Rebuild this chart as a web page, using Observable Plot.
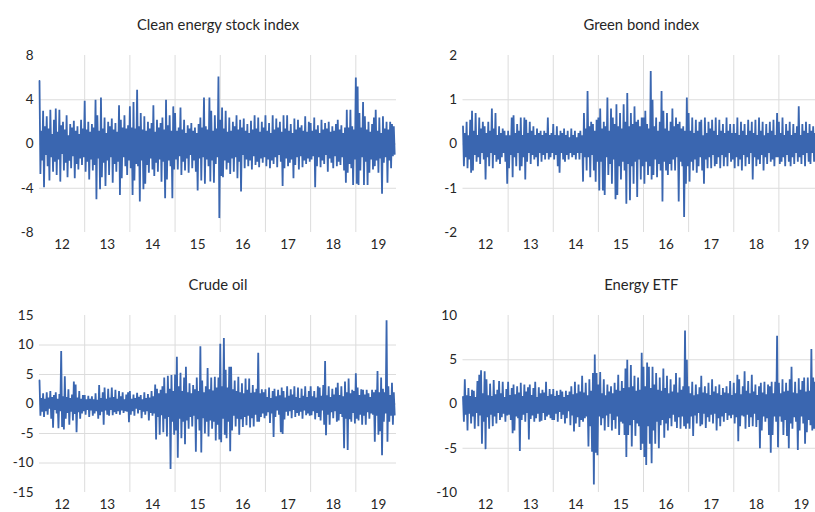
<!DOCTYPE html>
<html><head><meta charset="utf-8">
<script src="https://cdn.jsdelivr.net/npm/d3@7"></script>
<script src="https://cdn.jsdelivr.net/npm/@observablehq/plot@0.6"></script>
<style>
html,body{margin:0;padding:0;background:#fff;overflow:hidden;}
#wrap{position:relative;width:815px;height:512px;overflow:hidden;background:#fff;}
.panel{position:absolute;}
</style></head><body><div id="wrap"></div>
<script>
// x-axis year labels (two-digit years) and gridline positions
const yearLabels = [12, 13, 14, 15, 16, 17, 18, 19];
const yearBounds = [13, 14, 15, 16, 17, 18, 19];
const startYear = 12;
const obsPerYear = 50;

const titles = ["Clean energy stock index", "Green bond index", "Crude oil", "Energy ETF"];
const yTicksClean = [-8, -4, 0, 4, 8];
const yTicksBond = [-2, -1, 0, 1, 2];
const yTicksOil = [-15, -10, -5, 0, 5, 10, 15];
const yTicksEtf = [-10, -5, 0, 5, 10];

// estimated returns, 50 per year, 2012 .. late 2019
const cleanEnergy = [
  5.7, -2.7, 1.2, -1.5, 3.0, -3.9, 1.6, -1.0, 2.5, -2.0, 1.4, -3.3, 3.1, -1.2, 0.9, -2.5, 2.2, -1.6, 3.2, -2.8,
  1.1, -1.4, 3.1, -3.4, 1.7, -0.9, 2.0, -2.4, 1.3, -1.7, 2.6, -3.0, 0.8, -1.5, 1.8, -2.2, 1.5, -1.1, 2.1, -3.1,
  1.2, -1.8, 1.6, -2.3, 0.9, -1.3, 2.2, -1.9, 1.4, -1.2,
  3.9, -2.5, 1.3, -1.6, 2.0, -3.2, 1.1, -1.4, 1.8, -2.4, 1.5, -1.9, 4.0, -5.0, 2.6, -1.3, 1.2, -4.1, 4.2, -3.0,
  1.4, -1.7, 2.4, -3.8, 1.0, -1.5, 2.0, -2.8, 1.6, -1.2, 2.3, -3.5, 1.3, -1.8, 1.9, -2.5, 1.1, -1.6, 3.5, -4.6,
  2.2, -3.1, 1.5, -1.2, 2.6, -2.0, 1.4, -2.8, 1.7, -1.5,
  3.4, -2.2, 1.5, -4.6, 3.8, -3.3, 1.4, -1.8, 4.9, -2.0, 1.6, -5.2, 2.8, -1.5, 1.3, -4.1, 2.5, -3.6, 1.2, -1.9,
  2.0, -2.6, 1.4, -1.3, 1.9, -2.3, 3.5, -2.9, 1.1, -1.7, 2.2, -2.5, 1.5, -1.4, 1.9, -3.4, 2.4, -1.6, 1.3, -4.9,
  4.0, -3.2, 1.7, -1.5, 2.6, -2.0, 1.2, -4.9, 3.4, -2.3,
  2.8, -1.4, 1.2, -2.3, 1.5, -1.1, 3.3, -2.8, 1.3, -1.6, 2.2, -2.4, 1.0, -1.3, 1.7, -2.6, 1.4, -1.0, 1.9, -2.2,
  1.2, -1.5, 1.5, -2.5, 1.0, -4.2, 1.8, -1.3, 2.4, -3.3, 1.5, -1.2, 4.2, -3.6, 1.6, -1.4, 1.3, -2.0, 4.2, -3.4,
  3.0, -1.5, 1.2, -3.5, 2.6, -1.8, 1.4, -1.2, 6.1, -6.7,
  2.2, -2.9, 3.3, -3.0, 1.4, -1.5, 3.0, -2.3, 1.1, -1.7, 2.4, -2.7, 1.2, -1.3, 2.0, -2.5, 1.6, -1.2, 2.6, -3.1,
  1.3, -1.6, 2.2, -4.3, 1.5, -1.0, 2.3, -2.2, 1.2, -1.4, 1.8, -2.0, 1.0, -1.5, 2.1, -2.3, 1.3, -1.1, 2.6, -1.9,
  1.4, -1.6, 2.4, -2.1, 1.1, -1.3, 2.0, -1.7, 1.5, -1.2,
  2.6, -2.0, 1.2, -1.4, 1.9, -2.2, 1.0, -1.5, 2.6, -1.8, 1.3, -1.2, 2.3, -2.1, 1.5, -1.0, 2.0, -1.6, 1.1, -3.8,
  2.6, -2.2, 1.4, -1.3, 2.6, -2.0, 1.2, -1.7, 1.8, -1.4, 1.0, -3.1, 2.3, -1.9, 1.3, -1.2, 2.2, -2.3, 1.5, -1.1,
  1.7, -2.1, 1.2, -1.5, 2.5, -1.8, 1.1, -1.3, 2.0, -1.6,
  1.9, -1.4, 1.2, -1.1, 2.4, -3.9, 1.3, -2.0, 1.7, -1.2, 1.0, -2.1, 2.2, -1.5, 1.3, -1.8, 1.9, -1.0, 1.4, -2.5,
  2.0, -1.3, 1.1, -1.7, 1.6, -2.2, 1.2, -1.1, 1.8, -2.0, 2.2, -1.6, 1.3, -1.9, 1.7, -1.2, 1.0, -2.4, 1.5, -3.5,
  3.1, -2.6, 1.5, -1.8, 3.1, -2.2, 1.6, -3.7, 1.3, -1.4,
  6.0, -3.6, 5.2, -3.7, 2.8, -2.4, 1.5, -1.2, 3.8, -3.7, 2.5, -1.6, 1.3, -3.7, 2.0, -2.6, 1.1, -1.4, 1.8, -2.3,
  2.4, -2.0, 3.1, -1.5, 1.2, -2.6, 2.4, -1.3, 1.0, -4.5, 2.5, -1.7, 1.4, -1.2, 2.0, -3.5, 1.3, -1.5, 2.0, -2.2,
  1.8, -1.1, 1.6, -0.9
];

const greenBond = [
  0.4, -0.5, 0.25, -0.3, 0.5, -0.55, 0.2, -0.35, 0.55, -0.65, 0.75, -0.6, 0.3, -0.25, 0.7, -0.4, 0.2, -0.3, 0.6, -0.45,
  0.35, -0.2, 0.5, -0.35, 0.4, -0.8, 0.25, -0.3, 0.5, -0.5, 0.3, -0.2, 0.8, -0.55, 0.35, -0.25, 0.7, -0.4, 0.2, -0.35,
  0.4, -0.45, 0.25, -0.3, 0.35, -0.2, 0.3, -0.4, 0.2, -0.9,
  0.3, -0.55, 0.2, -0.25, 0.6, -0.75, 0.65, -0.3, 0.25, -0.5, 0.45, -0.2, 0.3, -0.6, 0.6, -0.5, 0.2, -0.3, 0.6, -0.8,
  0.55, -0.4, 0.25, -0.2, 0.5, -0.45, 0.3, -0.25, 0.4, -0.35, 0.2, -0.3, 0.35, -0.5, 0.25, -0.2, 0.3, -0.4, 0.2, -0.25,
  0.3, -0.35, 0.25, -0.2, 0.6, -0.35, 0.2, -0.3, 0.25, -0.2,
  0.45, -0.35, 0.2, -0.25, 0.4, -0.5, 0.2, -0.65, 0.3, -0.2, 0.25, -0.35, 0.35, -0.4, 0.2, -0.25, 0.3, -0.35, 0.15, -0.2,
  0.35, -0.3, 0.2, -0.25, 0.3, -0.35, 0.15, -0.2, 0.25, -0.35, 0.3, -0.2, 0.2, -0.85, 0.7, -0.3, 0.35, -0.6, 1.2, -0.3,
  0.4, -0.75, 0.5, -0.25, 0.45, -0.6, 0.3, -0.85, 0.55, -0.4,
  0.6, -1.05, 0.8, -0.4, 0.35, -1.05, 0.5, -1.15, 0.4, -0.3, 1.05, -0.7, 0.3, -0.45, 0.8, -0.9, 0.6, -0.35, 0.45, -1.25,
  0.9, -1.15, 0.4, -0.5, 0.7, -0.8, 0.35, -0.4, 0.9, -0.6, 0.5, -1.35, 1.15, -0.45, 0.4, -1.27, 0.7, -0.5, 0.45, -0.9,
  0.85, -0.4, 0.5, -1.2, 0.55, -0.35, 0.4, -0.8, 0.6, -0.5,
  0.6, -0.9, 0.75, -0.4, 0.45, -0.7, 0.35, -0.5, 1.65, -0.8, 1.0, -0.7, 0.4, -0.35, 0.6, -0.75, 0.3, -0.45, 0.5, -0.6,
  1.2, -1.3, 0.75, -0.4, 0.35, -0.6, 0.7, -0.7, 0.3, -0.45, 0.5, -0.6, 0.8, -0.35, 0.4, -0.6, 0.6, -0.3, 0.45, -1.3,
  0.5, -0.4, 0.35, -0.5, 0.4, -1.65, 0.3, -0.9, 1.05, -0.5,
  0.7, -0.85, 0.3, -0.4, 0.6, -0.6, 0.25, -0.35, 0.55, -0.65, 0.3, -0.5, 0.5, -0.3, 0.55, -0.6, 0.2, -0.9, 0.6, -0.35,
  0.25, -0.55, 0.5, -0.3, 0.35, -0.55, 0.55, -0.25, 0.3, -0.5, 0.6, -0.45, 0.2, -0.3, 0.55, -0.55, 0.3, -0.25, 0.45, -0.5,
  0.25, -0.3, 0.6, -0.5, 0.3, -0.2, 0.45, -0.4, 0.25, -0.35,
  0.45, -0.55, 0.25, -0.3, 0.6, -0.5, 0.2, -0.35, 0.5, -0.6, 0.3, -0.25, 0.45, -0.5, 0.2, -0.3, 0.55, -0.45, 0.3, -0.2,
  0.5, -0.8, 0.25, -0.3, 0.55, -0.5, 0.2, -0.35, 0.6, -0.45, 0.3, -0.25, 0.5, -0.6, 0.2, -0.3, 0.45, -0.45, 0.25, -0.2,
  0.5, -0.4, 0.3, -0.35, 0.55, -0.5, 0.2, -0.3, 0.7, -0.3,
  0.5, -0.45, 0.25, -0.4, 0.6, -0.3, 0.2, -0.5, 0.45, -0.25, 0.3, -0.4, 0.5, -0.5, 0.2, -0.3, 0.45, -0.45, 0.25, -0.2,
  0.4, -0.4, 0.85, -0.3, 0.2, -0.45, 0.45, -0.25, 0.3, -0.5, 0.5, -0.2, 0.25, -0.4, 0.45, -0.45, 0.3, -0.2, 0.4, -0.4,
  0.25, -0.3, 0.4, -0.2
];

const crudeOil = [
  4.0, -2.0, 1.0, -1.3, 1.8, -2.2, 0.9, -1.2, 2.0, -1.8, 1.1, -0.8, 2.2, -2.5, 1.2, -4.0, 1.5, -1.0, 2.0, -1.6,
  0.9, -4.1, 1.7, -1.2, 9.0, -3.9, 1.3, -4.3, 4.7, -2.5, 1.2, -1.5, 2.5, -3.5, 1.0, -1.3, 1.6, -2.8, 3.8, -1.7,
  3.3, -4.8, 1.1, -1.4, 2.2, -2.5, 0.9, -1.6, 1.5, -1.2,
  1.5, -1.8, 0.8, -1.0, 1.4, -2.2, 0.9, -1.1, 1.3, -2.0, 0.8, -1.6, 1.8, -1.2, 0.7, -2.5, 3.2, -1.9, 1.0, -1.3,
  2.0, -3.5, 2.8, -1.1, 0.9, -1.8, 2.6, -2.0, 1.1, -1.0, 2.8, -1.9, 1.2, -1.4, 2.4, -1.7, 0.9, -1.2, 2.2, -1.8,
  1.3, -1.1, 2.0, -1.5, 0.8, -1.2, 1.6, -1.3, 2.0, -3.1,
  2.2, -1.8, 0.9, -1.2, 1.6, -2.0, 1.0, -0.8, 1.9, -1.6, 1.2, -1.0, 1.5, -2.4, 0.8, -1.3, 2.0, -1.8, 1.0, -1.2,
  1.7, -2.8, 1.1, -1.5, 2.2, -2.0, 1.3, -1.6, 3.3, -6.0, 2.6, -2.2, 1.8, -5.2, 2.4, -1.9, 3.0, -4.8, 4.5, -2.5,
  1.8, -5.5, 4.8, -2.2, 2.6, -11.0, 4.9, -3.0, 2.2, -5.2,
  5.0, -4.5, 8.0, -9.1, 3.0, -2.5, 5.3, -5.8, 2.2, -3.0, 4.5, -6.8, 6.3, -2.8, 2.0, -4.2, 3.5, -2.2, 1.8, -3.8,
  3.2, -2.0, 2.5, -8.1, 4.5, -2.6, 2.2, -4.5, 9.8, -8.2, 4.0, -2.4, 2.0, -5.0, 3.0, -3.0, 6.1, -5.5, 2.5, -2.8,
  4.5, -4.2, 2.3, -3.0, 4.6, -6.2, 2.8, -3.5, 4.5, -6.0,
  10.2, -6.5, 3.0, -2.5, 11.2, -5.2, 5.8, -5.8, 2.8, -3.0, 6.3, -8.0, 6.3, -4.5, 2.5, -2.0, 4.0, -3.8, 2.2, -2.5,
  4.6, -5.2, 2.0, -2.6, 3.5, -3.9, 1.8, -2.2, 4.3, -3.6, 2.4, -2.0, 4.3, -4.0, 1.9, -2.4, 3.2, -3.8, 2.0, -1.8,
  2.6, -3.0, 8.7, -3.0, 1.8, -2.2, 2.5, -1.6, 2.0, -2.4,
  2.5, -2.0, 1.2, -1.4, 2.8, -3.2, 1.0, -1.6, 2.2, -5.6, 2.6, -2.2, 1.3, -1.1, 2.4, -1.8, 1.5, -4.8, 2.8, -5.1,
  2.2, -2.6, 1.1, -1.3, 3.0, -2.0, 1.4, -1.2, 2.5, -2.4, 1.6, -1.0, 3.0, -2.2, 1.2, -1.5, 2.8, -2.0, 1.0, -1.3,
  2.6, -2.5, 1.4, -1.1, 3.0, -1.9, 1.2, -1.6, 2.2, -2.0,
  3.0, -1.9, 1.3, -1.2, 2.2, -2.6, 1.1, -1.5, 3.0, -2.2, 2.8, -2.8, 1.4, -1.1, 3.2, -3.5, 7.3, -5.3, 1.5, -1.8,
  3.0, -3.5, 1.2, -1.4, 2.6, -2.4, 1.6, -1.2, 2.8, -3.0, 3.6, -2.8, 1.5, -1.7, 3.0, -2.2, 1.3, -7.5, 3.8, -2.5,
  2.0, -7.8, 4.3, -2.6, 1.8, -3.0, 2.4, -1.5, 2.2, -3.3,
  5.2, -2.5, 2.8, -2.8, 1.5, -1.8, 2.5, -3.5, 2.4, -2.0, 1.6, -3.5, 2.4, -1.4, 1.8, -2.5, 1.2, -1.6, 2.4, -1.8,
  2.0, -6.4, 2.4, -2.0, 5.6, -5.2, 2.0, -4.6, 4.5, -8.7, 2.6, -3.0, 2.0, -1.6, 14.2, -6.4, 3.0, -3.0, 1.5, -2.0,
  3.6, -3.5, 2.0, -1.8
];

const energyEtf = [
  0.8, -2.0, 2.8, -1.2, 1.0, -3.0, 1.8, -1.1, 0.9, -2.2, 1.6, -1.4, 1.5, -2.8, 0.8, -1.0, 2.6, -2.5, 3.3, -1.3,
  3.8, -4.5, 1.2, -2.0, 3.7, -5.1, 2.8, -1.5, 1.0, -2.8, 2.3, -1.2, 0.9, -2.5, 2.7, -1.4, 1.1, -2.2, 1.6, -1.0,
  2.6, -1.8, 1.2, -1.5, 2.5, -1.1, 0.8, -2.0, 1.7, -1.3,
  2.5, -1.2, 1.0, -1.8, 1.8, -3.3, 2.2, -3.0, 1.1, -1.4, 2.0, -1.6, 1.3, -5.3, 2.4, -1.8, 0.9, -1.2, 2.2, -2.0,
  1.4, -1.0, 1.9, -4.0, 2.2, -1.7, 1.0, -1.3, 1.8, -2.0, 2.5, -1.6, 0.8, -1.1, 1.9, -2.0, 1.2, -1.9, 1.6, -1.0,
  1.3, -1.8, 2.5, -1.4, 0.9, -1.2, 1.7, -1.6, 1.1, -1.8,
  1.7, -1.8, 0.9, -1.1, 1.5, -2.0, 1.0, -0.9, 1.6, -1.7, 1.4, -1.2, 0.8, -2.2, 1.5, -1.6, 1.0, -0.8, 1.4, -2.4,
  2.0, -1.3, 1.1, -3.1, 2.5, -2.2, 1.2, -1.5, 2.2, -2.6, 1.4, -1.8, 3.2, -2.0, 1.3, -1.6, 2.4, -1.4, 1.0, -4.8,
  2.8, -2.5, 1.5, -5.4, 3.5, -9.1, 5.6, -5.5, 3.5, -5.8,
  2.2, -1.4, 3.6, -2.4, 1.2, -1.6, 2.8, -3.0, 1.0, -1.3, 2.2, -2.6, 1.4, -1.1, 2.0, -3.0, 1.2, -1.8, 2.4, -2.8,
  1.6, -1.4, 3.3, -3.5, 1.5, -2.0, 2.6, -2.2, 1.8, -3.5, 4.0, -6.0, 5.0, -3.5, 1.9, -2.4, 4.4, -4.8, 2.0, -1.8,
  3.2, -3.6, 1.5, -2.2, 3.0, -2.5, 1.6, -5.2, 5.8, -4.5,
  4.2, -6.0, 2.0, -6.9, 4.7, -2.5, 4.2, -4.5, 1.8, -6.7, 4.2, -3.0, 2.2, -4.5, 3.5, -2.0, 1.6, -5.0, 3.0, -2.4,
  1.5, -1.8, 4.0, -3.8, 1.8, -2.2, 3.2, -3.0, 1.2, -1.6, 2.8, -2.5, 1.4, -1.2, 2.2, -2.0, 3.5, -2.7, 1.3, -1.5,
  3.0, -2.8, 1.6, -1.4, 2.0, -2.5, 8.3, -2.8, 5.0, -2.2,
  2.0, -2.8, 1.2, -1.4, 2.5, -3.6, 1.0, -1.3, 2.2, -2.2, 1.1, -1.0, 1.9, -2.5, 3.2, -2.3, 1.3, -1.1, 2.0, -2.7,
  1.2, -1.5, 2.4, -2.0, 1.0, -1.2, 2.8, -2.2, 1.4, -1.1, 2.0, -3.0, 1.2, -1.6, 2.2, -2.5, 1.0, -1.4, 1.8, -2.0,
  1.3, -1.0, 2.0, -1.8, 1.2, -1.3, 2.6, -1.6, 1.0, -1.2,
  2.4, -2.2, 1.2, -1.5, 3.3, -4.2, 2.8, -2.5, 1.1, -1.3, 2.0, -1.4, 3.7, -2.8, 1.5, -1.2, 2.6, -2.6, 1.2, -1.5,
  3.3, -2.5, 1.4, -1.1, 2.2, -2.6, 1.0, -1.8, 2.0, -5.0, 2.4, -3.0, 1.3, -1.4, 2.5, -2.0, 1.1, -1.6, 2.2, -3.5,
  2.0, -5.5, 2.5, -3.5, 1.2, -1.4, 2.5, -2.0, 7.7, -4.9,
  2.4, -1.4, 1.2, -2.0, 2.8, -3.5, 1.4, -1.8, 2.4, -3.6, 1.5, -5.0, 2.8, -2.2, 4.2, -2.8, 1.3, -1.5, 2.5, -2.0,
  1.2, -5.2, 2.9, -3.0, 1.6, -1.4, 2.6, -2.2, 3.0, -4.5, 1.4, -3.2, 3.0, -1.8, 1.5, -2.4, 6.2, -3.0, 3.0, -2.8,
  2.5, -3.2, 2.4, -2.6
];

const panels = [
  {title: titles[0], values: cleanEnergy, ticks: yTicksClean, left: 0, top: 0},
  {title: titles[1], values: greenBond, ticks: yTicksBond, left: 423, top: 0},
  {title: titles[2], values: crudeOil, ticks: yTicksOil, left: 0, top: 260},
  {title: titles[3], values: energyEtf, ticks: yTicksEtf, left: 423, top: 260}
];

const wrap = document.getElementById("wrap");
const lineColor = "#3a66b0";
const gridColor = "#dcdcdc";
const textColor = "#262626";

for (const p of panels) {
  const data = p.values.map((v, i) => ({t: startYear + i / obsPerYear, v}));
  const domain = [p.ticks[0], p.ticks[p.ticks.length - 1]];
  const inner = p.ticks.slice(1, -1);
  const chart = Plot.plot({
    width: 410,
    height: 255,
    marginLeft: p.left ? 39.5 : 39,
    marginRight: 14,
    marginTop: 55,
    marginBottom: 23,
    style: {fontFamily: "Lato, 'Open Sans', sans-serif", fontSize: "13.5px", color: textColor, background: "transparent", overflow: "visible"},
    x: {domain: [12, 19.9], axis: null},
    y: {domain, axis: null},
    marks: [
      Plot.ruleX(yearBounds, {stroke: gridColor, strokeWidth: 1}),
      Plot.ruleY(inner, {stroke: gridColor, strokeWidth: 1}),
      Plot.line(data, {x: "t", y: "v", stroke: lineColor, strokeWidth: 1.8, strokeLinejoin: "miter", strokeMiterlimit: 2}),
      Plot.axisX(yearLabels.map(y => y + 0.5), {label: null, tickSize: 0, tickPadding: 7, tickFormat: d => String(Math.floor(d)), fill: textColor}),
      Plot.axisY(p.ticks, {label: null, tickSize: 0, tickPadding: 6, tickFormat: d => String(d), fill: textColor}),
      Plot.text([p.title], {frameAnchor: "top", lineAnchor: "middle", dy: -30.5, fontSize: 14.8, fill: textColor})
    ]
  });
  chart.classList.add("panel");
  chart.style.left = p.left + "px";
  chart.style.top = p.top + "px";
  wrap.appendChild(chart);
}
</script></body></html>
